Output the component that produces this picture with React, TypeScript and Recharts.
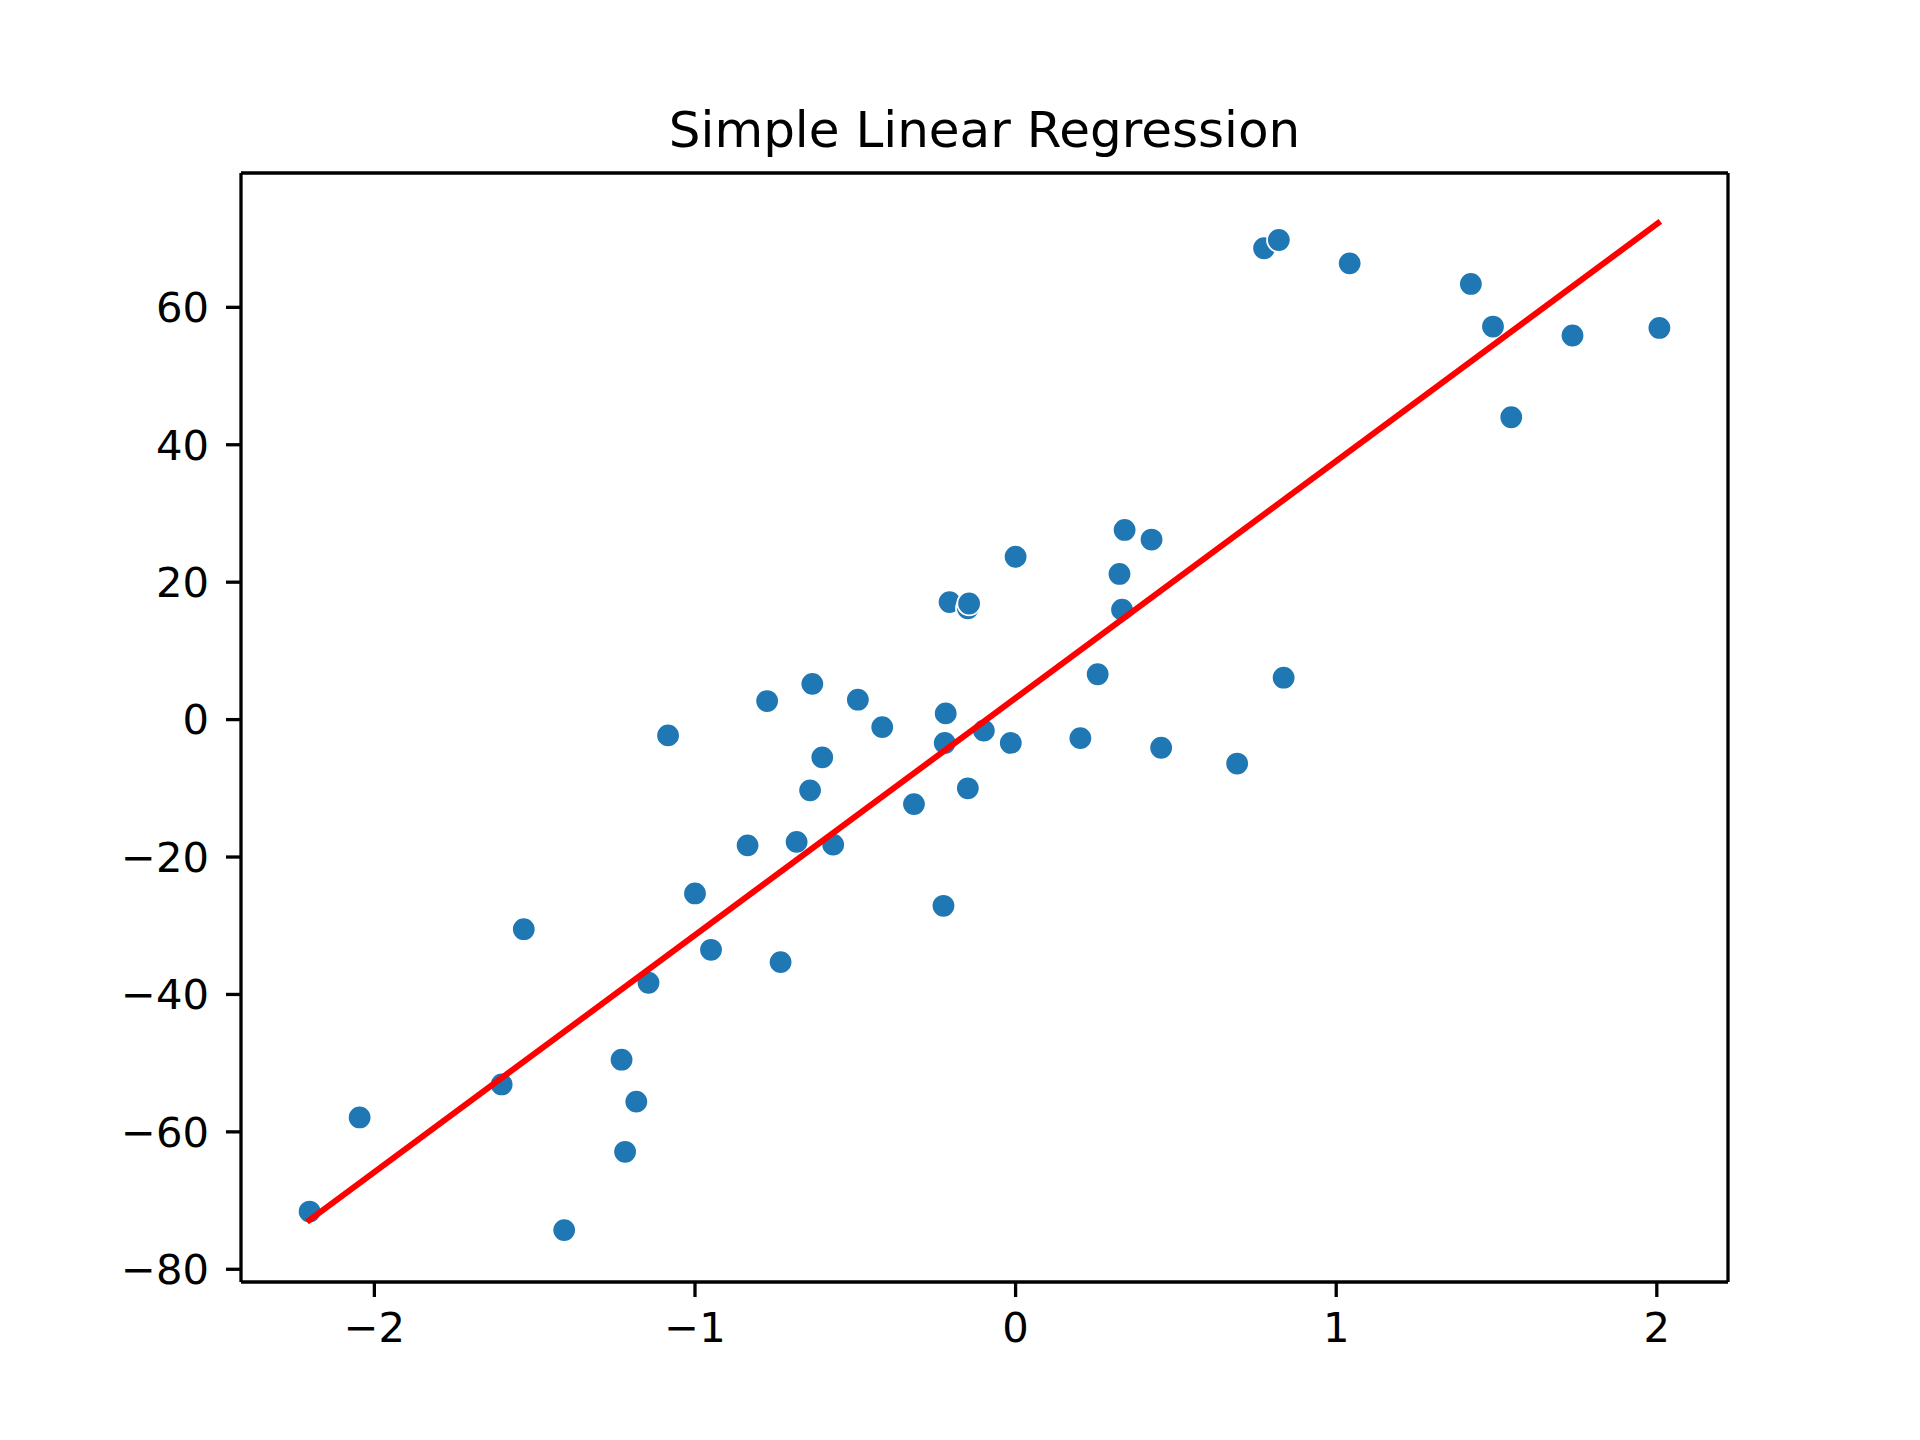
import React from "react";
import { ReferenceLine, Scatter, ScatterChart, XAxis, YAxis } from "recharts";

const FONT = "'DejaVu Sans', Verdana, sans-serif";
const BLUE = "#1f77b4";

// observed samples (feature x, target y)
const xValues = [
  -2.202, -2.046, -1.603, -1.534, -1.408, -1.229, -1.218, -1.183, -1.145, -1.084,
  -1.0, -0.95, -0.836, -0.775, -0.733, -0.683, -0.641, -0.634, -0.603, -0.569,
  -0.492, -0.416, -0.317, -0.225, -0.221, -0.218, -0.206, -0.149, -0.145, -0.149,
  -0.099, -0.015, 0.0, 0.202, 0.256, 0.324, 0.332, 0.34, 0.424, 0.454,
  0.691, 0.775, 0.821, 0.836, 1.042, 1.42, 1.489, 1.546, 1.737, 2.008,
];
const yValues = [
  -71.6, -57.9, -53.1, -30.5, -74.3, -49.5, -62.9, -55.6, -38.3, -2.3,
  -25.3, -33.5, -18.3, 2.7, -35.3, -17.8, -10.3, 5.2, -5.5, -18.2,
  2.9, -1.1, -12.3, -27.1, -3.4, 0.9, 17.1, 16.2, 16.9, -10.0,
  -1.6, -3.4, 23.7, -2.7, 6.6, 21.2, 16.0, 27.6, 26.2, -4.1,
  -6.4, 68.6, 69.8, 6.1, 66.4, 63.4, 57.2, 44.0, 55.9, 57.0,
];

// fitted line end points
const fitX = [-2.21, 2.011];
const fitY = [-73.1, 72.5];

const xTicks = [-2, -1, 0, 1, 2];
const yTicks = [-80, -60, -40, -20, 0, 20, 40, 60];
const xDomain = [-2.416, 2.222];
const yDomain = [-81.85, 79.55];

const points = xValues.map((x, i) => ({ x, y: yValues[i] }));
const fitLine = fitX.map((x, i) => ({ x, y: fitY[i] }));

const fmt = (v: number) => (v < 0 ? `\u2212${Math.abs(v)}` : `${v}`);

const tickStyle = { fill: "#000", fontSize: 41.7, fontFamily: FONT };
const spine = { stroke: "#000", strokeWidth: 3.3 };

const Dot = (props: any) => (
  <circle cx={props.cx} cy={props.cy} r={11.8} fill={BLUE} stroke="#ffffff" strokeWidth={1.8} />
);
const NoDot = () => <g />;

export default function App() {
  return (
    <div style={{ position: "absolute", left: 0, top: 0, width: 1920, height: 1440, background: "#fff" }}>
      <div
        style={{
          position: "absolute",
          left: 241,
          width: 1487,
          top: 105,
          textAlign: "center",
          fontFamily: FONT,
          fontSize: 50,
          lineHeight: "50px",
          color: "#000",
        }}
      >
        Simple Linear Regression
      </div>
      <ScatterChart width={1920} height={1440} margin={{ top: 173, right: 192, left: 0, bottom: 0 }}>
        <XAxis
          type="number"
          dataKey="x"
          domain={xDomain}
          allowDataOverflow
          ticks={xTicks}
          tickFormatter={fmt}
          tick={tickStyle}
          tickSize={15}
          tickMargin={15}
          axisLine={spine}
          tickLine={spine}
          height={158}
        />
        <YAxis
          type="number"
          dataKey="y"
          domain={yDomain}
          allowDataOverflow
          ticks={yTicks}
          tickFormatter={fmt}
          tick={tickStyle}
          tickSize={15}
          tickMargin={17}
          axisLine={spine}
          tickLine={spine}
          width={241}
        />
        {/* top and right spines */}
        <ReferenceLine y={yDomain[1]} stroke="#000" strokeWidth={3.3} ifOverflow="visible" />
        <ReferenceLine x={xDomain[1]} stroke="#000" strokeWidth={3.3} ifOverflow="visible" />
        <Scatter data={points} shape={Dot} isAnimationActive={false} />
        <Scatter
          data={fitLine}
          shape={NoDot}
          line={{ stroke: "#ff0000", strokeWidth: 6 }}
          isAnimationActive={false}
        />
      </ScatterChart>
    </div>
  );
}
